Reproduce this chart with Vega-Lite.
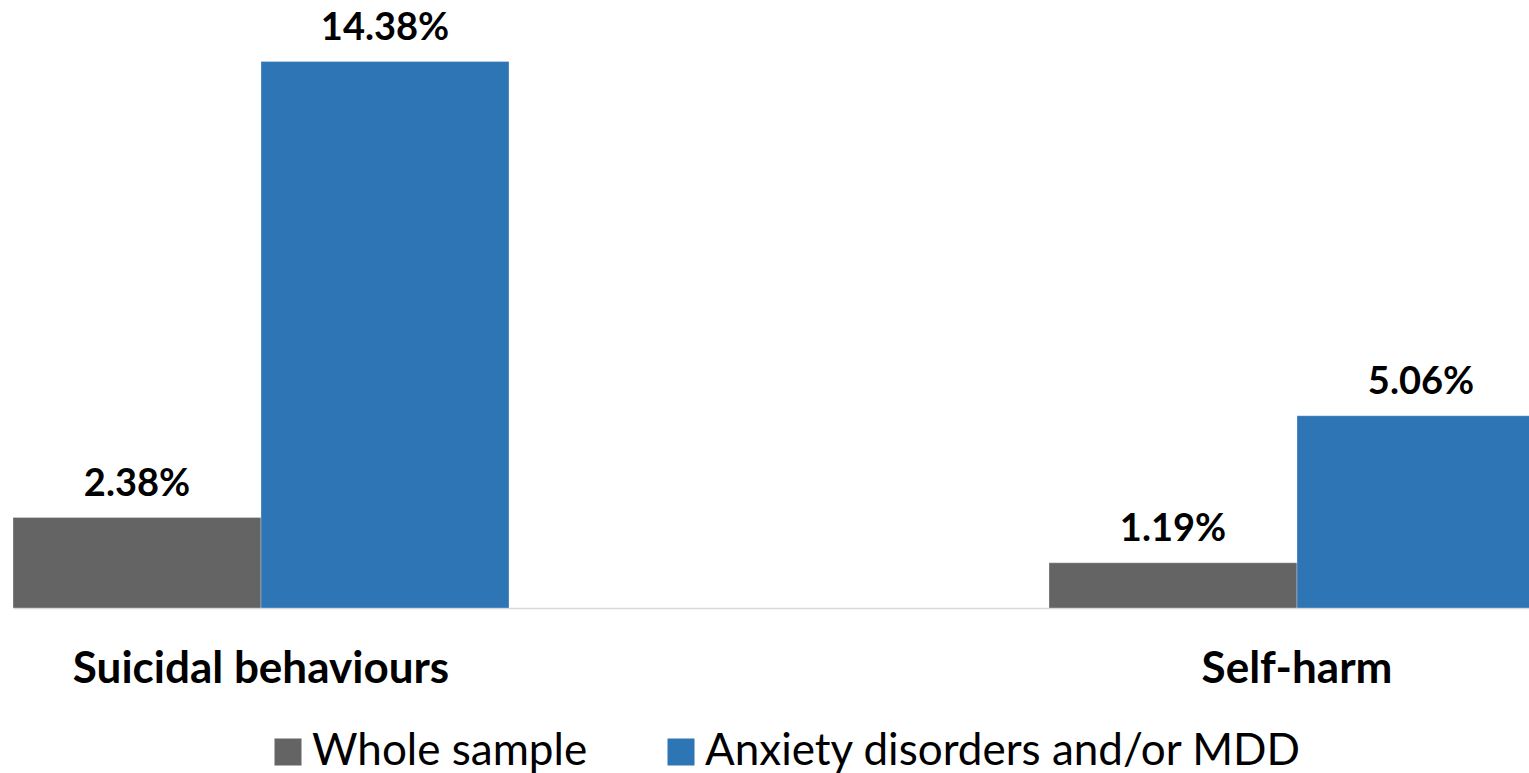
{
  "$schema": "https://vega.github.io/schema/vega-lite/v6.json",
  "width": 1529,
  "height": 608,
  "autosize": {"type": "none"},
  "padding": {"top": 0, "left": 0, "right": 0, "bottom": 165},
  "background": "white",
  "config": {"view": {"stroke": null}, "font": "Lato"},
  "data": {"values": [
    {"category": "Suicidal behaviours", "series": "Whole sample", "value": 2.38, "label": "2.38%"},
    {"category": "Suicidal behaviours", "series": "Anxiety disorders and/or MDD", "value": 14.38, "label": "14.38%"},
    {"category": "Self-harm", "series": "Whole sample", "value": 1.19, "label": "1.19%"},
    {"category": "Self-harm", "series": "Anxiety disorders and/or MDD", "value": 5.06, "label": "5.06%"}
  ]},
  "encoding": {
    "x": {"field": "category", "type": "nominal", "sort": ["Suicidal behaviours", "Self-harm"],
      "scale": {"range": [13, 1545], "paddingInner": 0.52124, "paddingOuter": 0, "align": 0},
      "axis": {"title": null, "labelAngle": 0, "labelFont": "Lato", "labelFontSize": 44, "labelFontWeight": "bold", "labelColor": "black", "labelPadding": 39, "labelLimit": 1000, "ticks": false, "domainColor": "#d9d9d9", "domainWidth": 1.5}},
    "xOffset": {"field": "series", "type": "nominal", "sort": ["Whole sample", "Anxiety disorders and/or MDD"], "scale": {"paddingInner": 0, "paddingOuter": 0}},
    "y": {"field": "value", "type": "quantitative", "scale": {"domain": [0, 16], "nice": false}, "axis": null}
  },
  "layer": [
    {"mark": {"type": "bar", "clip": true, "stroke": "white", "strokeWidth": 0.5, "strokeOpacity": 0.6},
     "encoding": {"color": {"field": "series", "type": "nominal", "sort": ["Whole sample", "Anxiety disorders and/or MDD"],
       "scale": {"domain": ["Whole sample", "Anxiety disorders and/or MDD"], "range": ["#646464", "#2e75b6"]},
       "legend": {"title": null, "orient": "none", "legendX": 266, "legendY": 730, "direction": "horizontal", "symbolType": "square", "symbolSize": 729, "symbolStrokeWidth": 0, "labelFont": "Lato", "labelFontSize": 44, "labelColor": "black", "labelOffset": 2, "columnPadding": 71, "labelLimit": 1000}}}},
    {"mark": {"type": "text", "font": "Lato", "fontSize": 38, "fontWeight": "bold", "color": "black", "baseline": "alphabetic", "dy": -22},
     "encoding": {"text": {"field": "label"}}}
  ]
}
